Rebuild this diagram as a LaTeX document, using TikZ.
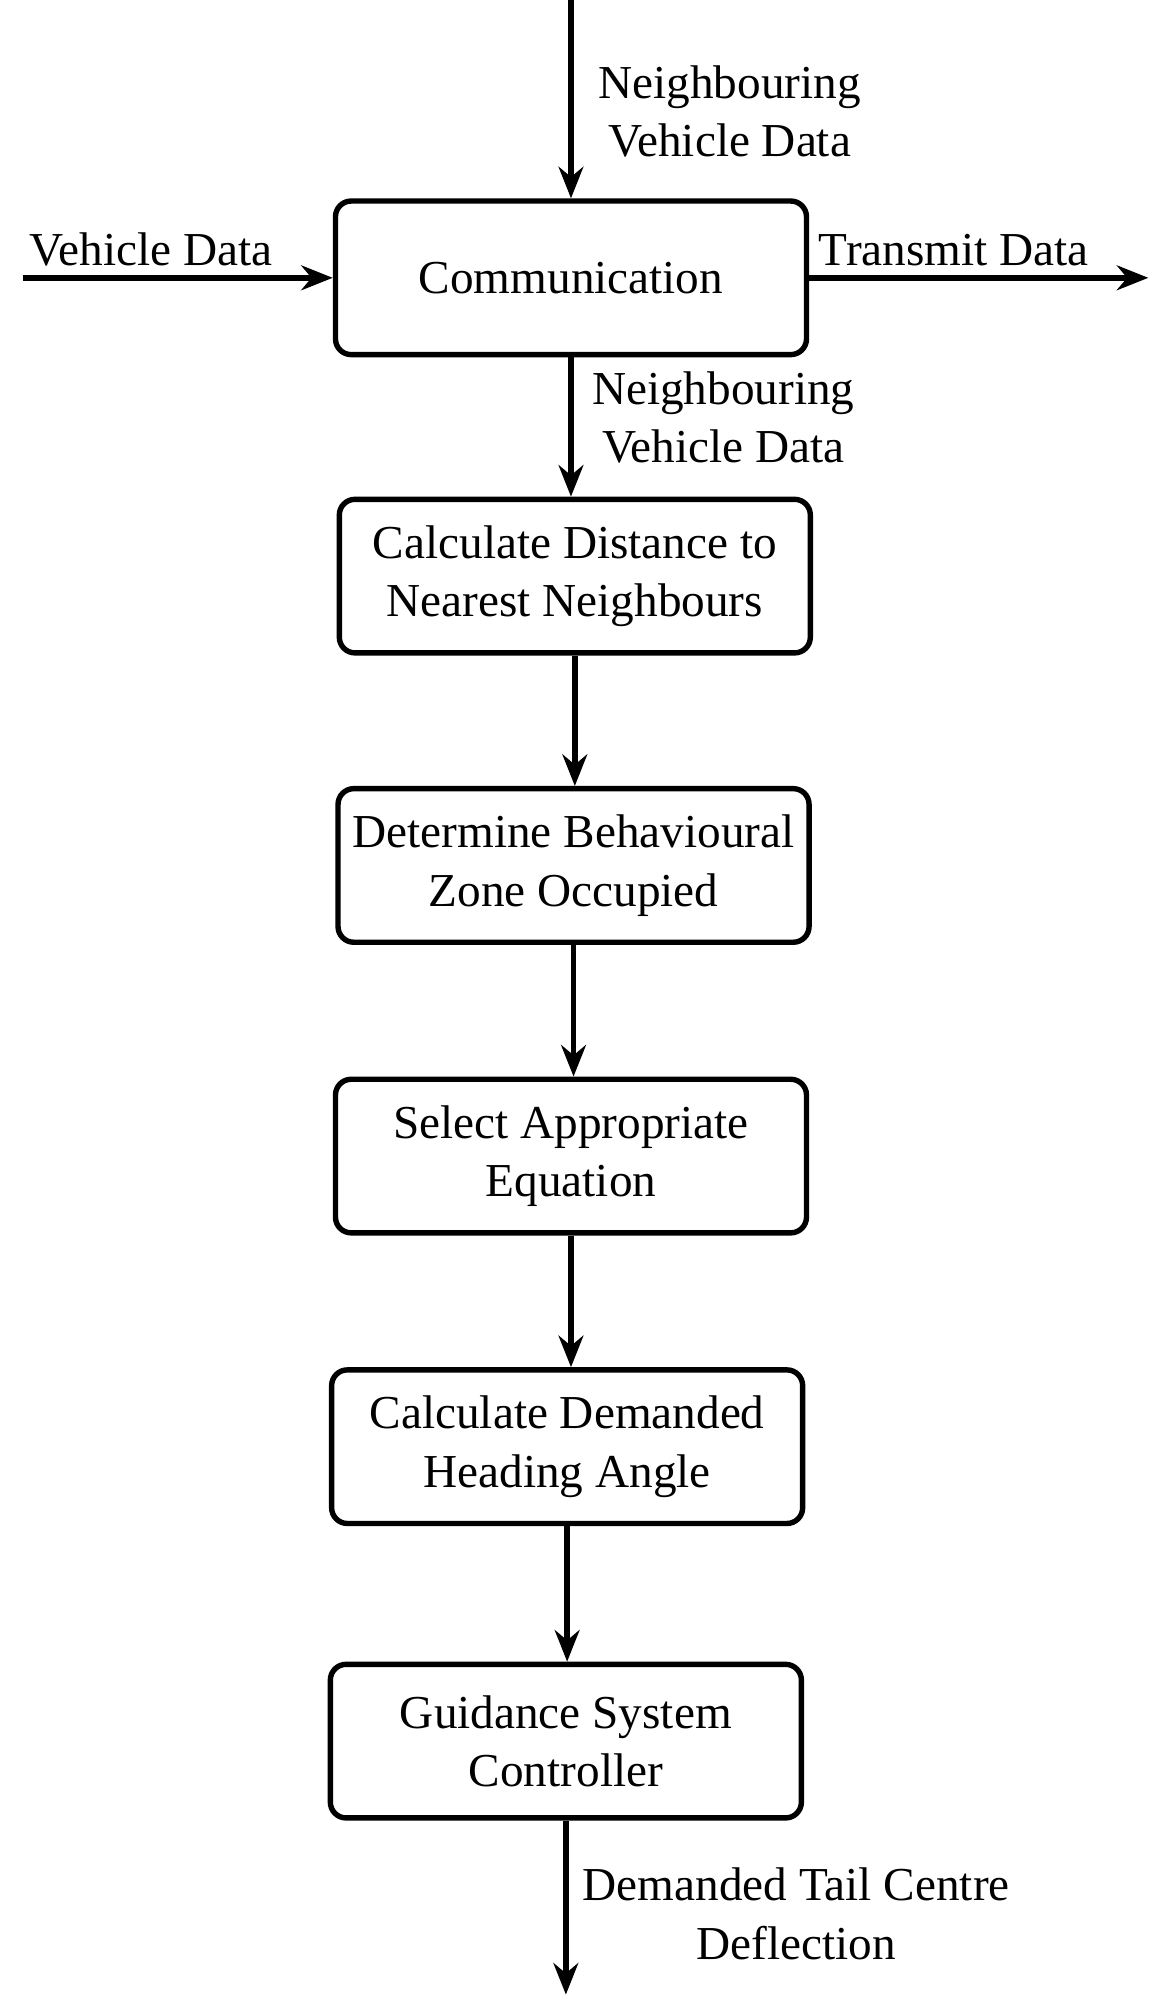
\documentclass[tikz,border=0pt]{standalone}
\usepackage{fontspec}
\setmainfont{Liberation Serif}
\usetikzlibrary{arrows.meta}
\begin{document}
\begin{tikzpicture}[x=0.02cm,y=-0.02cm,
  box/.style={draw,line width=2.4pt,rounded corners=7pt,minimum width=7.36cm,minimum height=2.4cm,align=center,inner sep=0pt},
  arr/.style={line width=2.4pt,-{Stealth[length=14pt,width=11pt]}},
  lab/.style={align=center,inner sep=0pt},
  every node/.style={font=\fontsize{21}{26}\selectfont}]
\useasboundingbox (0,0) rectangle (910,1563);
\node[box] (c) at (446,217) {Communication};
\node[box] (d) at (449,450) {Calculate Distance to\\Nearest Neighbours};
\node[box] (z) at (448,676) {Determine Behavioural\\Zone Occupied};
\node[box] (s) at (446,903) {Select Appropriate\\Equation};
\node[box] (h) at (443,1130) {Calculate Demanded\\Heading Angle};
\node[box] (g) at (442,1360) {Guidance System\\Controller};
\coordinate (top) at (446,0);
\coordinate (left) at (18,217);
\coordinate (right) at (897,217);
\coordinate (bot) at (442,1558);
\draw[arr] (top) -- (c.north);
\draw[arr] (left) -- (c.west);
\draw[arr] (c.east) -- (right);
\draw[arr] (c.south) -- (c.south |- d.north);
\draw[arr] (d.south) -- (d.south |- z.north);
\draw[arr] (z.south) -- (z.south |- s.north);
\draw[arr] (s.south) -- (s.south |- h.north);
\draw[arr] (h.south) -- (h.south |- g.north);
\draw[arr] (g.south) -- (bot);
\node[lab] (t1) at (570,87) {Neighbouring\\Vehicle Data};
\node[lab] (t2) at (118,195) {Vehicle Data};
\node[lab] (t3) at (745,195) {Transmit Data};
\node[lab] (t4) at (565,326) {Neighbouring\\Vehicle Data};
\node[lab] (t5) at (622,1495) {Demanded Tail Centre\\Deflection};
\end{tikzpicture}
\end{document}
